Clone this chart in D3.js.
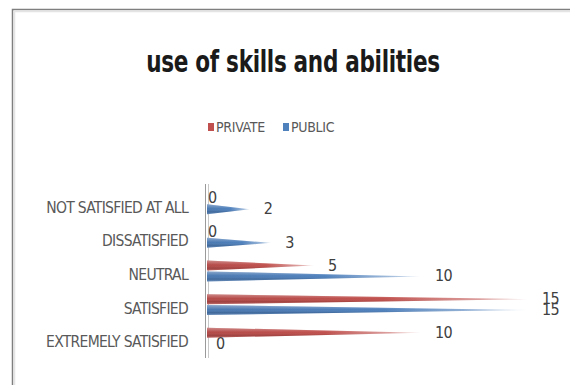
<!DOCTYPE html>
<html>
<head>
<meta charset="utf-8">
<script src="https://cdn.jsdelivr.net/npm/d3@7"></script>
<style>
  html, body { margin: 0; padding: 0; background: #fff; }
  svg { display: block; }
  .cond { font-family: 'DejaVu Sans'; font-stretch: condensed; }
</style>
</head>
<body>
<svg id="chart" width="570" height="385"></svg>
<script>
// Survey answers, listed top to bottom as they appear on the axis
const categories = ["NOT SATISFIED AT ALL", "DISSATISFIED", "NEUTRAL", "SATISFIED", "EXTREMELY SATISFIED"];
const seriesNames = ["PRIVATE", "PUBLIC"];
const privateValues = [0, 0, 5, 15, 10];
const publicValues = [2, 3, 10, 15, 0];
const seriesColors = ["#C0504D", "#4F81BD"];

const svg = d3.select("#chart");
const W = 570, H = 385;

// chart area frame
svg.append("rect")
  .attr("x", 12.5).attr("y", 9.5)
  .attr("width", W).attr("height", H)
  .attr("fill", "#fff")
  .attr("stroke", "#7f7f7f").attr("stroke-width", 1.5);
svg.append("line")
  .attr("x1", 14).attr("x2", W).attr("y1", 11.5).attr("y2", 11.5)
  .attr("stroke", "#e4e4e4").attr("stroke-width", 1.5);
svg.append("line")
  .attr("x1", 14.5).attr("x2", 14.5).attr("y1", 11).attr("y2", H)
  .attr("stroke", "#e4e4e4").attr("stroke-width", 1.5);

// title, narrowed horizontally for a tall condensed look
svg.append("g")
  .attr("transform", "translate(293,72) scale(0.8,1)")
  .append("text")
  .attr("class", "cond")
  .attr("text-anchor", "middle")
  .attr("font-size", 30)
  .attr("font-weight", "bold")
  .attr("letter-spacing", -0.4)
  .attr("fill", "#1a1a1a")
  .text("use of skills and abilities");

// legend
const legend = svg.append("g").attr("class", "cond").attr("font-size", 14).attr("fill", "#595959");
const legendX = [208, 283];
seriesNames.forEach((name, i) => {
  legend.append("rect")
    .attr("x", legendX[i]).attr("y", 123)
    .attr("width", 6).attr("height", 8)
    .attr("fill", seriesColors[i]);
  legend.append("text")
    .attr("x", legendX[i] + 8).attr("y", 132)
    .attr("letter-spacing", -0.3)
    .text(name);
});

// scales
const x = d3.scaleLinear().domain([0, 15]).range([207, 528]);
const y = d3.scaleBand().domain(categories).range([187, 355]).paddingInner(0);
const sub = d3.scaleBand().domain(seriesNames).range([-11, 11]).padding(0.02);

// category axis
const yAxis = d3.axisLeft(y).tickSize(0).tickPadding(0);
const yAxisG = svg.append("g")
  .attr("transform", "translate(188,4)")
  .call(yAxis);
yAxisG.select(".domain").remove();
yAxisG.selectAll("text")
  .attr("class", "cond")
  .attr("font-size", 15.5)
  .attr("letter-spacing", -0.7)
  .attr("fill", "#595959");

// axis wall drawn as a double line
[205.5, 208.5].forEach((xx, i) => {
  svg.append("line")
    .attr("x1", xx).attr("x2", xx)
    .attr("y1", 184).attr("y2", 358)
    .attr("stroke", i === 0 ? "#9a9a9a" : "#c8c8c8")
    .attr("stroke-width", 1);
});

// gradients giving each cone its shading and fading tip
const defs = svg.append("defs");
seriesColors.forEach((c, i) => {
  const g = defs.append("linearGradient")
    .attr("id", "cone" + i)
    .attr("x1", 0).attr("x2", 1).attr("y1", 0).attr("y2", 0);
  const dark = d3.color(c).darker(0.2);
  g.append("stop").attr("offset", 0).attr("stop-color", dark);
  g.append("stop").attr("offset", 0.55).attr("stop-color", c);
  g.append("stop").attr("offset", 0.85).attr("stop-color", c).attr("stop-opacity", 0.55);
  g.append("stop").attr("offset", 1).attr("stop-color", c).attr("stop-opacity", 0.15);
  const s = defs.append("linearGradient")
    .attr("id", "shine" + i)
    .attr("x1", 0).attr("x2", 0).attr("y1", 0).attr("y2", 1);
  s.append("stop").attr("offset", 0).attr("stop-color", "#fff").attr("stop-opacity", 0.35);
  s.append("stop").attr("offset", 0.45).attr("stop-color", "#fff").attr("stop-opacity", 0);
  s.append("stop").attr("offset", 0.75).attr("stop-color", "#000").attr("stop-opacity", 0.12);
  s.append("stop").attr("offset", 1).attr("stop-color", "#fff").attr("stop-opacity", 0.2);
});

const rows = [];
categories.forEach((cat, ci) => {
  [privateValues, publicValues].forEach((vals, si) => {
    rows.push({ cat, series: seriesNames[si], si, value: vals[ci] });
  });
});

const halfH = 5;
const barY = d => y(d.cat) + y.bandwidth() / 2 + sub(d.series) + sub.bandwidth() / 2;
function conePath(d) {
  const cy = barY(d);
  const x0 = x(0), x1 = x(d.value);
  return `M${x0},${cy - halfH}L${x1},${cy}L${x0},${cy + halfH}Z`;
}

const cones = svg.append("g");
cones.selectAll("path.cone")
  .data(rows.filter(d => d.value > 0))
  .join("path")
  .attr("class", "cone")
  .attr("d", conePath)
  .attr("fill", d => `url(#cone${d.si})`);
cones.selectAll("path.shine")
  .data(rows.filter(d => d.value > 0))
  .join("path")
  .attr("class", "shine")
  .attr("d", conePath)
  .attr("fill", d => `url(#shine${d.si})`);

// value labels
svg.append("g")
  .attr("class", "cond")
  .attr("font-size", 16)
  .attr("fill", "#404040")
  .selectAll("text")
  .data(rows)
  .join("text")
  .attr("x", d => x(d.value) + (d.value > 0 ? 14 : (d.si === 0 ? 1 : 9)))
  .attr("y", d => barY(d) + 5)
  .attr("letter-spacing", -0.6)
  .text(d => d.value);
</script>
</body>
</html>
